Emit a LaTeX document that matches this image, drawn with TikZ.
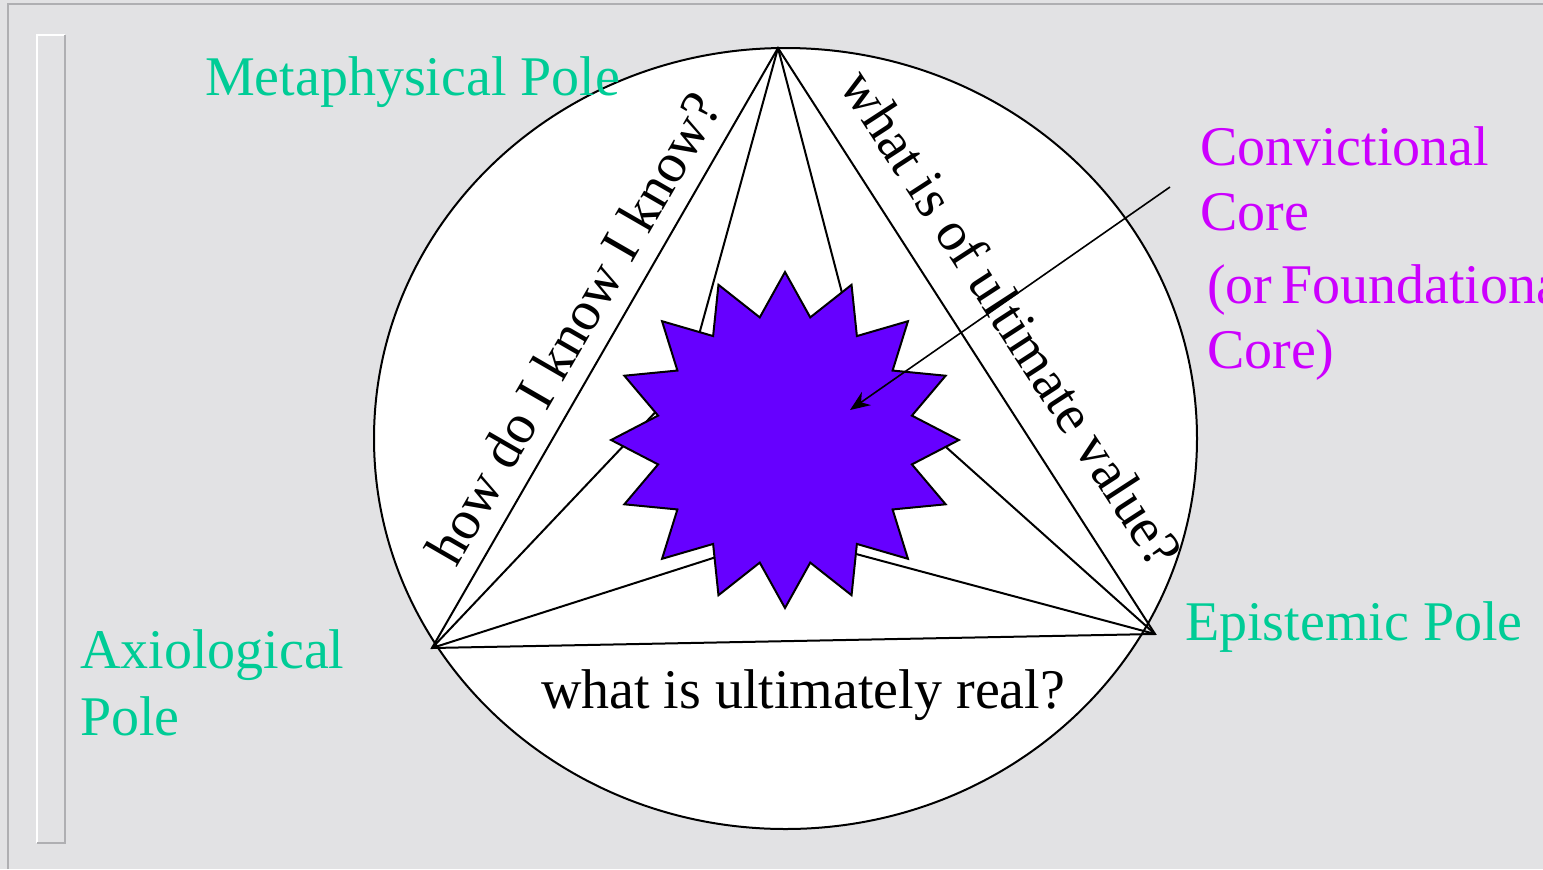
\documentclass[tikz,border=0pt]{standalone}
\usepackage{fontspec}
\setmainfont{Liberation Serif}
\usetikzlibrary{shapes.geometric,arrows.meta}
\definecolor{marble}{RGB}{226,226,228}
\definecolor{framegray}{RGB}{175,175,178}
\definecolor{polegreen}{RGB}{0,204,150}
\definecolor{coremag}{RGB}{204,0,255}
\definecolor{starfill}{RGB}{102,0,255}
\begin{document}
\begin{tikzpicture}[x=0.5pt,y=-0.5pt,
  big/.style={font=\fontsize{28}{32}\selectfont, inner sep=0pt, outer sep=0pt},
  pole/.style={big, text=polegreen, anchor=base west},
  corelbl/.style={big, text=coremag, anchor=base west},
  question/.style={big, text=black},
  edgeline/.style={draw=black, line width=1pt},
]
\useasboundingbox (0,0) rectangle (1543,869);
\fill[marble] (0,0) rectangle (1543,869);
% frame
\draw[framegray, line width=1pt] (8,869) -- (8,4) -- (1543,4);
\draw[white, line width=1.3pt] (37,843) -- (37,35) -- (65,35);
\draw[framegray, line width=1.3pt] (65,35) -- (65,843) -- (37,843);
% circle
\node[draw=black, fill=white, ellipse, line width=1pt, inner sep=0pt,
      minimum width=411.5pt, minimum height=390.5pt] (circ) at (785.5,438.5) {};
% vertices
\coordinate (T) at (778,48);
\coordinate (L) at (432,648);
\coordinate (R) at (1155,634);
% hidden ends behind the star
\coordinate (t1) at (681,400);
\coordinate (t2) at (870,400);
\coordinate (l1) at (700,365);
\coordinate (l2) at (760,543);
\coordinate (r1) at (880,388);
\coordinate (r2) at (800,539);
\draw[edgeline] (T) -- (L) -- (R) -- cycle;
\draw[edgeline] (T) -- (t1);
\draw[edgeline] (T) -- (t2);
\draw[edgeline] (L) -- (l1);
\draw[edgeline] (L) -- (l2);
\draw[edgeline] (R) -- (r1);
\draw[edgeline] (R) -- (r2);
% star
\begin{scope}[shift={(785,440)}, xscale=1.035]
\node[star, star points=16, star point ratio=1.344, minimum size=168pt, inner sep=0pt,
      draw=black, fill=starfill, line width=1pt, transform shape] (core) at (0,0) {};
\end{scope}
% labels
\node[pole] (meta) at (205,95) {Metaphysical Pole};
\node[pole] (axio1) at (80,668) {Axiological};
\node[pole] (axio2) at (80,735) {Pole};
\node[pole] (epi) at (1185,640) {Epistemic Pole};
\node[corelbl] (conv1) at (1200,165) {Convictional};
\node[corelbl] (conv2) at (1200,230) {Core};
\node[corelbl] (found1) at (1207,303) {(or\hspace{4.5pt}Foundational};
\node[corelbl] (found2) at (1207,368) {Core)};
\node[question, anchor=base west] (real) at (541,708) {what is ultimately real?};
\node[question, rotate=60] (know) at (573,328) {how do I know I know?};
\node[question, rotate=-57] (value) at (1012,318) {what is of ultimate value?};
% arrow
\coordinate (as) at (1170,187);
\coordinate (ae) at (850,410);
\draw[-{Stealth[length=10pt,width=8pt]}, line width=0.8pt] (as) -- (ae);
\end{tikzpicture}
\end{document}
